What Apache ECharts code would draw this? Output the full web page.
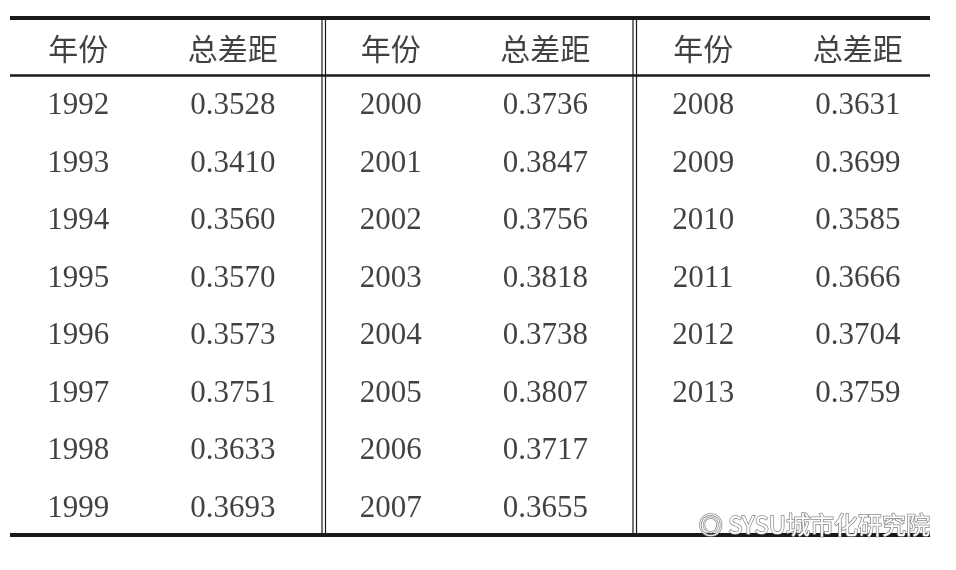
<!DOCTYPE html>
<html><head><meta charset="utf-8">
<script src="https://cdn.jsdelivr.net/npm/echarts@6/dist/echarts.min.js"></script>
<style>html,body{margin:0;padding:0;background:#fff}#c{width:956px;height:570px}</style>
</head><body><div id="c"></div>
<script>
const headers = ['年份', '总差距'];
const years1 = ['1992','1993','1994','1995','1996','1997','1998','1999'];
const gaps1 = ['0.3528','0.3410','0.3560','0.3570','0.3573','0.3751','0.3633','0.3693'];
const years2 = ['2000','2001','2002','2003','2004','2005','2006','2007'];
const gaps2 = ['0.3736','0.3847','0.3756','0.3818','0.3738','0.3807','0.3717','0.3655'];
const years3 = ['2008','2009','2010','2011','2012','2013'];
const gaps3 = ['0.3631','0.3699','0.3585','0.3666','0.3704','0.3759'];
const blocks = [[years1,gaps1],[years2,gaps2],[years3,gaps3]];

const cells = [];
const headerCells = [];
blocks.forEach(([ys, gs], b) => {
  headerCells.push({value:[b+0.25, 0], label:headers[0]});
  headerCells.push({value:[b+0.745, 0], label:headers[1]});
  ys.forEach((y,i) => {
    cells.push({value:[b+0.25, i+1], label:y});
    cells.push({value:[b+0.745, i+1], label:gs[i]});
  });
});
const mk = (arr, font, size) => ({
  type:'scatter', symbolSize:0, silent:true,
  data: arr.map(d => ({value:d.value, name:d.label})),
  label:{show:true, position:'inside', formatter:p=>p.name, color:'#111', fontFamily:font, fontSize:size}
});
const ch = echarts.init(document.getElementById('c'));
const black = '#1a1a1a';
const vline = x => ({type:'line', shape:{x1:x,y1:18,x2:x,y2:535}, style:{stroke:black, lineWidth:1.2}});
ch.setOption({
  animation:false,
  grid:{left:0,right:0,top:0,bottom:0},
  xAxis:{type:'value', min:0, max:956/312.5, show:false},
  yAxis:{type:'value', min:-48.5/57.5, max:(570-48.5)/57.5, inverse:true, show:false},
  series:[mk(headerCells,'"Noto Sans CJK SC"',30), mk(cells,'"Liberation Serif"',31)],
  graphic:[
    {type:'line', shape:{x1:10,y1:18,x2:930,y2:18}, style:{stroke:black, lineWidth:4}},
    {type:'line', shape:{x1:10,y1:75.5,x2:930,y2:75.5}, style:{stroke:black, lineWidth:2.5}},
    {type:'line', shape:{x1:10,y1:535,x2:930,y2:535}, style:{stroke:black, lineWidth:4}},
    vline(322), vline(325.5), vline(633), vline(636.5),
    {type:'text', left:698, top:512, style:{text:'\u25CE SYSU城市化研究院', fill:'#fff', stroke:'#888', lineWidth:1.5, font:'24px "Noto Sans CJK SC"'}}
  ]
});
</script></body></html>
